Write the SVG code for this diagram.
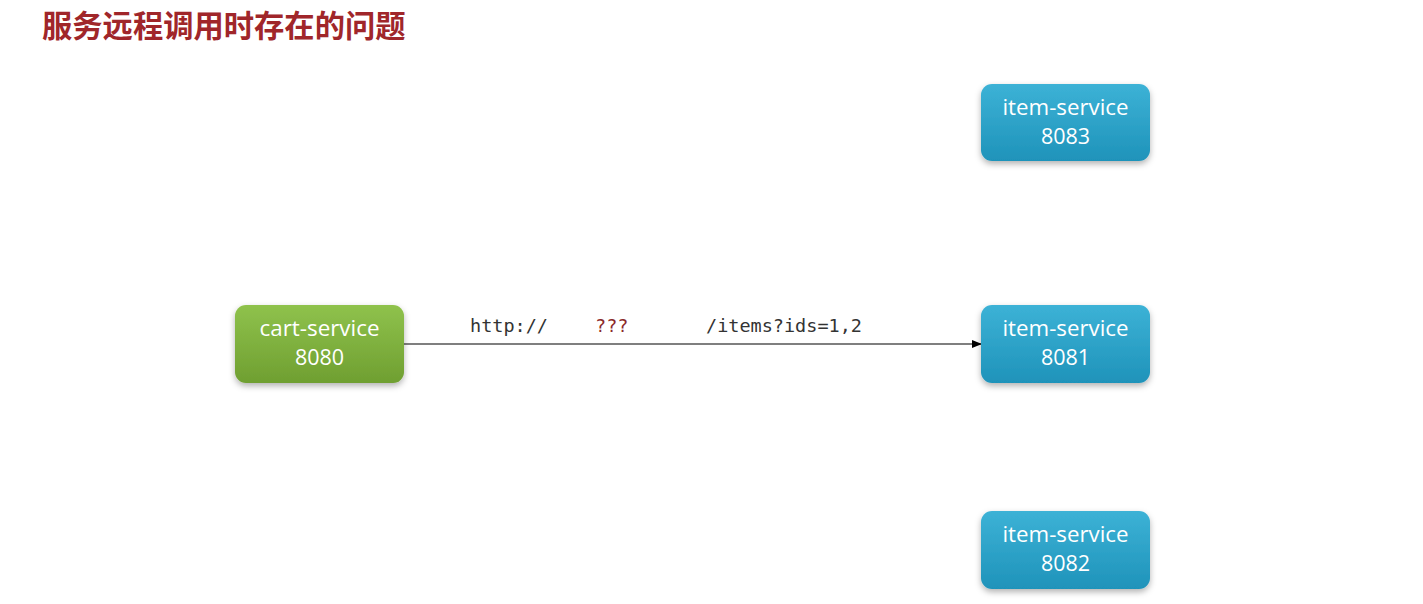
<svg xmlns="http://www.w3.org/2000/svg" width="1423" height="604" viewBox="0 0 1423 604">
<defs>
<linearGradient id="gGreen" x1="0" y1="0" x2="0" y2="1"><stop offset="0" stop-color="#8fc24c"/><stop offset="1" stop-color="#6f9f31"/></linearGradient>
<linearGradient id="gBlue" x1="0" y1="0" x2="0" y2="1"><stop offset="0" stop-color="#3cb2d6"/><stop offset="1" stop-color="#1f93ba"/></linearGradient>
<filter id="sh" x="-20%" y="-20%" width="140%" height="150%"><feDropShadow dx="0" dy="3" stdDeviation="3" flood-color="#000" flood-opacity="0.3"/></filter>
<marker id="arr" markerWidth="10" markerHeight="8" refX="9" refY="4" orient="auto" markerUnits="userSpaceOnUse"><path d="M0,0 L10,4 L0,8 Z" fill="#000"/></marker>
<style>
.title{font-family:"Noto Sans CJK SC","Noto Sans",sans-serif;font-weight:bold;font-size:30.3px;fill:#a0262a}
.lbl{font-family:"Open Sans","Noto Sans",sans-serif;font-size:21.5px;fill:#fff;text-anchor:middle}
.mono{font-family:"DejaVu Sans Mono","Liberation Mono",monospace;font-size:18.5px;fill:#333}
.q{fill:#8b2a2a}
</style>
</defs>
<rect width="1423" height="604" fill="#fff"/>
<text class="title" x="42" y="37">服务远程调用时存在的问题</text>
<g id="connectors">
<line x1="404" y1="344" x2="981" y2="344" stroke="#000" stroke-width="1.2" marker-end="url(#arr)"/>
<text class="mono" x="470" y="332">http://</text>
<text class="mono q" x="595" y="332">???</text>
<text class="mono" x="706" y="332">/items?ids=1,2</text>
</g>
<g id="cart-service">
<rect x="235" y="305" width="169" height="78" rx="11" fill="url(#gGreen)" filter="url(#sh)"/>
<text class="lbl" x="319.5" y="336" textLength="120" lengthAdjust="spacingAndGlyphs">cart-service</text>
<text class="lbl" x="319.5" y="365">8080</text>
</g>
<g id="item-service-8083">
<rect x="981" y="84" width="169" height="77" rx="11" fill="url(#gBlue)" filter="url(#sh)"/>
<text class="lbl" x="1065.5" y="115" textLength="126" lengthAdjust="spacingAndGlyphs">item-service</text>
<text class="lbl" x="1065.5" y="144">8083</text>
</g>
<g id="item-service-8081">
<rect x="981" y="305" width="169" height="78" rx="11" fill="url(#gBlue)" filter="url(#sh)"/>
<text class="lbl" x="1065.5" y="336" textLength="126" lengthAdjust="spacingAndGlyphs">item-service</text>
<text class="lbl" x="1065.5" y="365">8081</text>
</g>
<g id="item-service-8082">
<rect x="981" y="511" width="169" height="78" rx="11" fill="url(#gBlue)" filter="url(#sh)"/>
<text class="lbl" x="1065.5" y="542" textLength="126" lengthAdjust="spacingAndGlyphs">item-service</text>
<text class="lbl" x="1065.5" y="571">8082</text>
</g>
</svg>
